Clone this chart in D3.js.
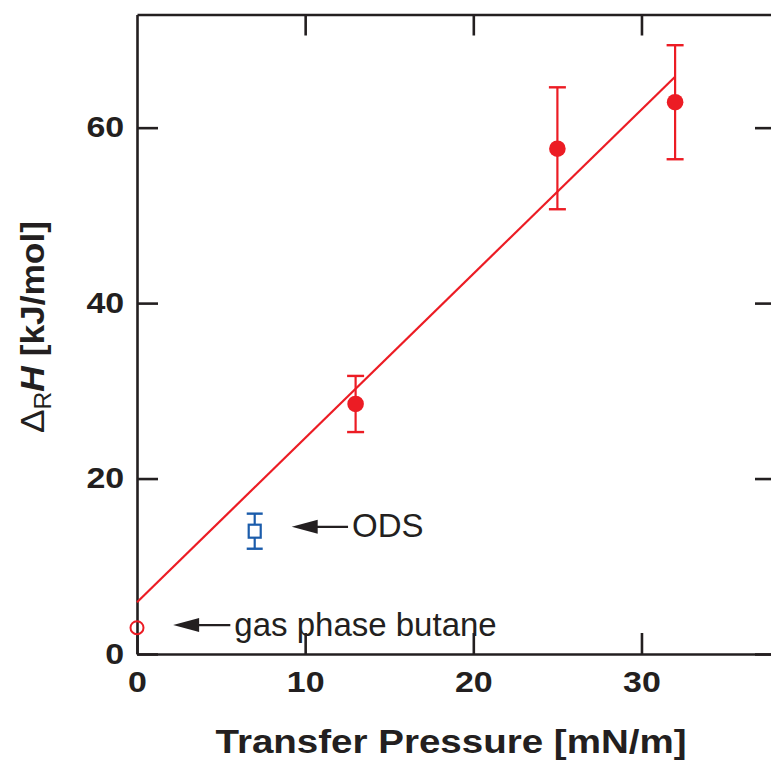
<!DOCTYPE html>
<html>
<head>
<meta charset="utf-8">
<script src="https://cdn.jsdelivr.net/npm/d3@7"></script>
<style>
  body { margin: 0; background: #fff; }
  text { font-family: Arial, "Liberation Sans", sans-serif; }
</style>
</head>
<body>
<div id="chart"></div>
<script>
// data
var pressure = [13, 25, 32];          // mN/m
var enthalpy = [28.5, 57.6, 62.9];    // kJ/mol
var errLow = [25.3, 50.7, 56.4];
var errHigh = [31.7, 64.6, 69.4];

var fitX = [0, 32];
var fitY = [5.9, 65.8];

var odsX = [7], odsY = [14.0], odsLow = [12.0], odsHigh = [16.0];
var gasX = [0], gasY = [3.0];

var xTicks = [0, 10, 20, 30];
var yTicks = [0, 20, 40, 60];

// annotations: arrow tip, arrow tail, label (in data units)
var notes = [
  { label: "ODS", tip: [9.2, 14.5], tail: [12.55, 14.5] },
  { label: "gas phase butane", tip: [2.15, 3.3], tail: [5.55, 3.3] }
];

var W = 771, H = 762;
var margin = { top: 14.5, right: -5, bottom: 108, left: 137 },
  width = W - margin.left - margin.right,
  height = H - margin.top - margin.bottom;

var red = "#ec1c24", blue = "#1b5cab", ink = "#231f20";

var svg = d3.select("#chart").append("svg")
  .attr("width", W)
  .attr("height", H)
  .style("overflow", "hidden");

var g = svg.append("g")
  .attr("transform", `translate(${margin.left},${margin.top})`);

var x = d3.scaleLinear().domain([0, 38]).range([0, width]);
var y = d3.scaleLinear().domain([0, 72.9]).range([height, 0]);

var tickLen = 21;

// frame + ticks on all four sides
function styleAxis(sel) {
  sel.selectAll("path").attr("stroke", ink).attr("stroke-width", 2.6);
  sel.selectAll("line").attr("stroke", ink).attr("stroke-width", 2.6);
  sel.selectAll("text")
    .attr("fill", ink)
    .attr("transform", "scale(1.17,1)")
    .style("font-size", "29px")
    .style("font-weight", "bold");
}

var xb = g.append("g")
  .attr("transform", `translate(0,${height})`)
  .call(d3.axisBottom(x).tickValues(xTicks).tickSizeInner(-tickLen).tickSizeOuter(0).tickPadding(17));
styleAxis(xb);
xb.selectAll("text").attr("dy", "0.71em");

var xt = g.append("g")
  .call(d3.axisTop(x).tickValues(xTicks.filter(d => d > 0)).tickSizeInner(-tickLen).tickSizeOuter(0).tickFormat(""));
styleAxis(xt);

var yl = g.append("g")
  .call(d3.axisLeft(y).tickValues(yTicks).tickSizeInner(-tickLen).tickSizeOuter(0).tickPadding(11));
styleAxis(yl);

var yr = g.append("g")
  .attr("transform", `translate(${width},0)`)
  .call(d3.axisRight(y).tickValues(yTicks).tickSizeInner(-tickLen).tickSizeOuter(0).tickFormat(""));
styleAxis(yr);

// fit line
var line = d3.line().x(d => x(d[0])).y(d => y(d[1]));
g.append("path")
  .datum(d3.zip(fitX, fitY))
  .attr("d", line)
  .attr("fill", "none")
  .attr("stroke", red)
  .attr("stroke-width", 2.2);

// red error bars + points
var cap = 8.5;
pressure.forEach(function (p, i) {
  g.append("line")
    .attr("x1", x(p)).attr("x2", x(p))
    .attr("y1", y(errLow[i])).attr("y2", y(errHigh[i]))
    .attr("stroke", red).attr("stroke-width", 2.2);
  [errLow[i], errHigh[i]].forEach(function (v) {
    g.append("line")
      .attr("x1", x(p) - cap).attr("x2", x(p) + cap)
      .attr("y1", y(v)).attr("y2", y(v))
      .attr("stroke", red).attr("stroke-width", 2.4);
  });
  g.append("circle")
    .attr("cx", x(p)).attr("cy", y(enthalpy[i]))
    .attr("r", 8.3)
    .attr("fill", red);
});

// ODS point (open blue square with error bar)
odsX.forEach(function (p, i) {
  g.append("line")
    .attr("x1", x(p)).attr("x2", x(p))
    .attr("y1", y(odsLow[i])).attr("y2", y(odsHigh[i]))
    .attr("stroke", blue).attr("stroke-width", 2.2);
  [odsLow[i], odsHigh[i]].forEach(function (v) {
    g.append("line")
      .attr("x1", x(p) - 8).attr("x2", x(p) + 8)
      .attr("y1", y(v)).attr("y2", y(v))
      .attr("stroke", blue).attr("stroke-width", 2.4);
  });
  g.append("rect")
    .attr("x", x(p) - 6).attr("y", y(odsY[i]) - 6.5)
    .attr("width", 12).attr("height", 13)
    .attr("fill", "#fff")
    .attr("stroke", blue).attr("stroke-width", 2.2);
});

// gas phase butane (open red circle)
gasX.forEach(function (p, i) {
  g.append("circle")
    .attr("cx", x(p)).attr("cy", y(gasY[i]))
    .attr("r", 6.5)
    .attr("fill", "none")
    .attr("stroke", red).attr("stroke-width", 2);
});

// annotation arrows
notes.forEach(function (n) {
  var tx = x(n.tip[0]), ty = y(n.tip[1]);
  var ex = x(n.tail[0]);
  g.append("line")
    .attr("x1", tx + 15).attr("x2", ex)
    .attr("y1", ty).attr("y2", ty)
    .attr("stroke", ink).attr("stroke-width", 2.2);
  g.append("path")
    .attr("d", `M${tx},${ty} L${tx + 26},${ty - 7} L${tx + 26},${ty + 7} Z`)
    .attr("fill", ink);
  g.append("text")
    .attr("x", ex + 4)
    .attr("y", ty + 10.5)
    .attr("fill", ink)
    .style("font-size", "33px")
    .text(n.label);
});

// axis titles
svg.append("text")
  .attr("transform", "translate(451,753) scale(1.15,1)")
  .attr("text-anchor", "middle")
  .attr("fill", ink)
  .style("font-size", "33.5px")
  .style("font-weight", "bold")
  .text("Transfer Pressure [mN/m]");

var yt = svg.append("text")
  .attr("transform", "translate(44,433) rotate(-90) scale(1.07,1)")
  .attr("fill", ink)
  .style("font-size", "33px");
yt.append("tspan").text("\u0394");
yt.append("tspan").attr("dy", 7).style("font-size", "23px").text("R");
yt.append("tspan").attr("dy", -7).style("font-weight", "bold").style("font-style", "italic").text("H");
yt.append("tspan").style("font-weight", "bold").text(" [kJ/mol]");
</script>
</body>
</html>
